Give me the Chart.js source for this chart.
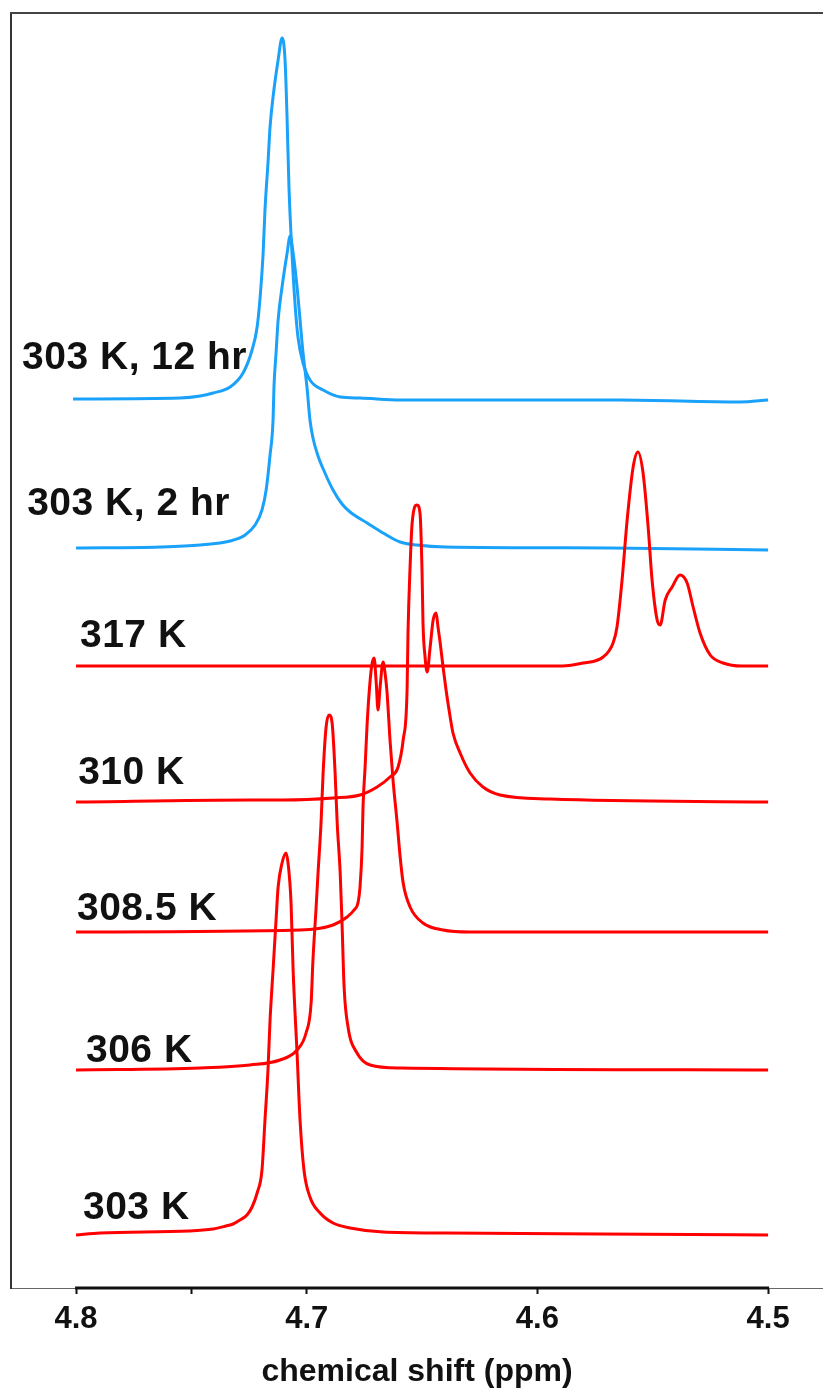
<!DOCTYPE html>
<html><head><meta charset="utf-8">
<script src="https://cdn.jsdelivr.net/npm/chart.js@4/dist/chart.umd.min.js"></script>
<style>html,body{margin:0;padding:0;background:#fff;}canvas{display:block;}</style>
</head><body>
<canvas id="c" width="823" height="1389"></canvas>
<script>
// ---- data (chemical shift in ppm, intensity in arbitrary units above each trace's baseline) ----
const shift303 = [4.8000,4.7896,4.7510,4.7406,4.7350,4.7319,4.7289,4.7259,4.7237,4.7215,4.7194,4.7181,4.7168,4.7159,4.7146,4.7133,4.7124,4.7107,4.7090,4.7081,4.7068,4.7059,4.7042,4.7029,4.7012,4.6986,4.6942,4.6886,4.6812,4.6669,4.6396,4.5728,4.5000];
const int303   = [0,2,4,6,9,11,15,20,28,42,65,115,165,215,265,315,348,372,382,372,332,265,182,115,65,38,22,12,7,3,2,1,0];

const shift306 = [4.8000,4.7462,4.7246,4.7116,4.7042,4.7003,4.6981,4.6973,4.6960,4.6951,4.6938,4.6929,4.6916,4.6903,4.6890,4.6877,4.6868,4.6855,4.6847,4.6838,4.6821,4.6782,4.6725,4.6595,4.5000];
const int306   = [0,2,5,10,20,37,67,110,160,197,247,297,343,355,347,297,247,197,147,83,43,17,5,2,0];

const shift3085 = [4.8000,4.7029,4.6886,4.6825,4.6795,4.6777,4.6769,4.6760,4.6756,4.6747,4.6738,4.6725,4.6717,4.6708,4.6699,4.6691,4.6682,4.6669,4.6660,4.6652,4.6639,4.6626,4.6608,4.6595,4.6582,4.6552,4.6496,4.6409,4.6292,4.5000];
const int3085   = [0,2,7,15,22,30,45,85,125,165,209,252,268,274,250,222,245,270,258,240,192,152,109,75,49,25,9,2,0,0];

const shift310 = [4.8000,4.7246,4.7103,4.6886,4.6769,4.6695,4.6639,4.6604,4.6582,4.6565,4.6561,4.6552,4.6543,4.6522,4.6509,4.6500,4.6496,4.6487,4.6478,4.6465,4.6452,4.6439,4.6431,4.6422,4.6409,4.6396,4.6383,4.6366,4.6335,4.6292,4.6236,4.6162,4.5945,4.5000];
const int310   = [0,2,2,4,7,15,25,35,62,112,169,235,279,297,289,229,179,145,130,155,182,189,175,160,135,112,92,69,49,29,15,7,3,0];

const shift317 = [4.8000,4.6595,4.5893,4.5802,4.5715,4.5672,4.5655,4.5633,4.5611,4.5585,4.5564,4.5542,4.5520,4.5503,4.5481,4.5468,4.5446,4.5416,4.5382,4.5351,4.5325,4.5295,4.5251,4.5195,4.5113,4.5000];
const int317   = [0,0,0,3,9,23,39,86,146,199,214,193,139,86,46,41,66,79,91,83,59,33,11,3,0,0];

const shift2h = [4.8000,4.7636,4.7462,4.7332,4.7267,4.7224,4.7194,4.7176,4.7159,4.7146,4.7142,4.7133,4.7124,4.7107,4.7085,4.7072,4.7059,4.7042,4.7029,4.7016,4.6999,4.6986,4.6973,4.6951,4.6921,4.6886,4.6847,4.6812,4.6738,4.6669,4.6595,4.6522,4.6400,4.5685,4.5000];
const int2h   = [0,1,3,7,13,23,38,58,93,128,161,195,228,261,295,312,295,261,228,195,161,128,110,92,75,58,44,36,25,15,6,3,1,0,-2];

const shift12h = [4.8013,4.7549,4.7462,4.7406,4.7332,4.7276,4.7237,4.7215,4.7202,4.7189,4.7181,4.7168,4.7159,4.7146,4.7124,4.7107,4.7094,4.7085,4.7077,4.7064,4.7051,4.7038,4.7016,4.6986,4.6929,4.6855,4.6769,4.6595,4.5642,4.5121,4.5000];
const int12h   = [0,1,3,6,12,26,49,72,102,146,189,236,272,302,339,361,339,279,212,146,96,62,36,19,9,2,1,-1,-1,-3,-1];

// stacking offsets of each trace's baseline
const traceNames   = ['303 K','306 K','308.5 K','310 K','317 K','303 K, 2 hr','303 K, 12 hr'];
const traceOffsets = [53, 218, 356, 486, 622, 740, 889];

// axis ticks
const tickValues  = [4.8, 4.75, 4.7, 4.6, 4.5];
const majorTicks  = [4.8, 4.7, 4.6, 4.5];

// ---- presentation ----
const FONT = '"Liberation Sans", Arial, sans-serif';
const RED = '#ff0000', BLUE = '#1aa2fa';
const traceShifts = [shift303, shift306, shift3085, shift310, shift317, shift2h, shift12h];
const traceInts   = [int303, int306, int3085, int310, int317, int2h, int12h];
const traceColors = [RED, RED, RED, RED, RED, BLUE, BLUE];
// label anchors (left/baseline) in data units
const labelAnchors = [
  [4.7970, 69], [4.7957, 226], [4.7996, 368], [4.7991, 504], [4.7983, 641], [4.8212, 773], [4.8234, 919]
];

const datasets = traceNames.map((n, i) => ({
  label: n,
  data: traceShifts[i].map((s, j) => ({x: s, y: traceOffsets[i] + traceInts[i][j]})),
  borderColor: traceColors[i],
  borderWidth: 3,
  pointRadius: 0,
  fill: false,
  cubicInterpolationMode: 'monotone'
}));

const framePlugin = {
  id: 'frame',
  afterDraw(chart) {
    const {ctx, chartArea: a, scales: {x}} = chart;
    ctx.save();
    ctx.strokeStyle = '#444'; ctx.lineWidth = 2;
    ctx.beginPath(); ctx.moveTo(a.left - 1, a.top); ctx.lineTo(a.right, a.top); ctx.stroke();
    ctx.strokeStyle = '#111'; ctx.lineWidth = 3;
    ctx.beginPath();
    ctx.moveTo(x.getPixelForValue(4.8) - 1, a.bottom);
    ctx.lineTo(x.getPixelForValue(4.5) + 1, a.bottom);
    ctx.stroke();
    ctx.restore();
  }
};

const labelPlugin = {
  id: 'traceLabels',
  afterDatasetsDraw(chart) {
    const {ctx, scales: {x, y}} = chart;
    ctx.save();
    ctx.font = 'bold 39px ' + FONT;
    if ('letterSpacing' in ctx) ctx.letterSpacing = '0.5px';
    ctx.fillStyle = '#111';
    ctx.textAlign = 'left';
    ctx.textBaseline = 'alphabetic';
    traceNames.forEach((n, i) => {
      ctx.fillText(n, x.getPixelForValue(labelAnchors[i][0]), y.getPixelForValue(labelAnchors[i][1]));
    });
    ctx.restore();
  }
};

new Chart(document.getElementById('c'), {
  type: 'line',
  data: {datasets},
  options: {
    responsive: false,
    animation: false,
    devicePixelRatio: 1,
    layout: {padding: {top: 13, left: 0, right: 0, bottom: 0}},
    plugins: {legend: {display: false}, tooltip: {enabled: false}},
    scales: {
      x: {
        type: 'linear', reverse: true, min: 4.4762, max: 4.8282, position: 'bottom',
        afterBuildTicks: s => { s.ticks = tickValues.map(v => ({value: v})); },
        afterFit: s => { s.height = 101; },
        ticks: {
          autoSkip: false, maxRotation: 0, minRotation: 0, padding: 7, color: '#111',
          font: {family: FONT, size: 31, weight: 'bold'},
          callback: v => majorTicks.some(m => Math.abs(m - v) < 1e-9) ? Number(v).toFixed(1) : ''
        },
        grid: {display: true, drawOnChartArea: false, drawTicks: true, tickLength: 6, tickWidth: 2, tickColor: '#111'},
        border: {display: true, color: '#666', width: 1},
        title: {display: true, text: 'chemical shift (ppm)', color: '#111',
                font: {family: FONT, size: 32, weight: 'bold', lineHeight: 1}, padding: {top: 0, bottom: 1}}
      },
      y: {
        type: 'linear', min: 0, max: 1275,
        afterFit: s => { s.width = 11; },
        ticks: {display: false},
        grid: {display: false},
        border: {display: true, color: '#333', width: 2}
      }
    }
  },
  plugins: [framePlugin, labelPlugin]
});
</script>
</body></html>
